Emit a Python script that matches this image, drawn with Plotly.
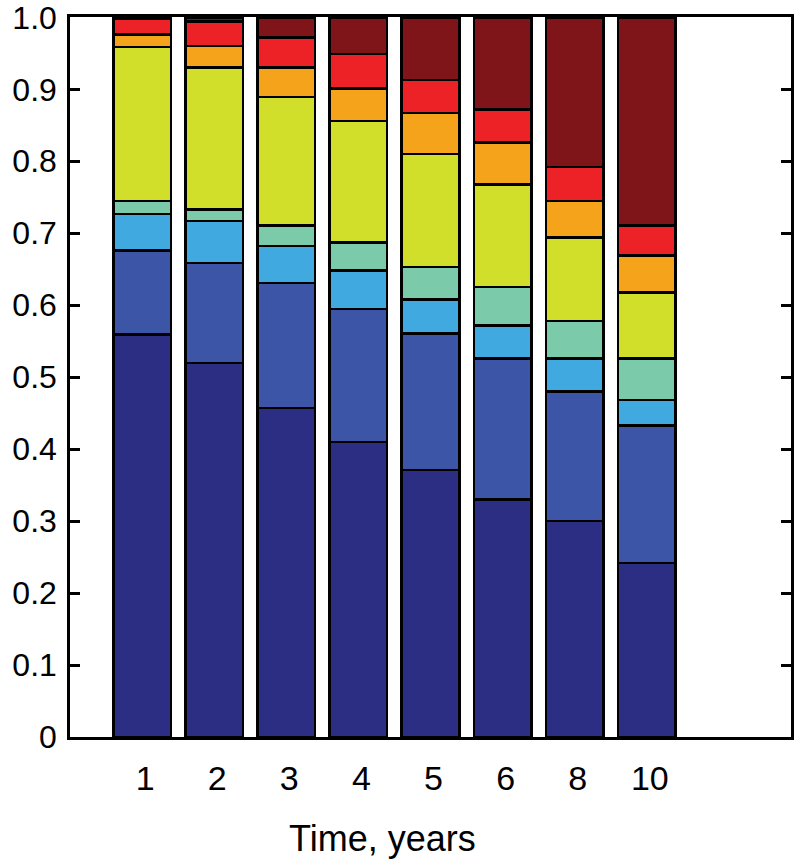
import plotly.graph_objects as go

# Categories (time, years)
categories = ["1", "2", "3", "4", "5", "6", "8", "10"]

# Stacked segment values, bottom to top
s1_navy      = [0.559, 0.520, 0.457, 0.410, 0.371, 0.330, 0.300, 0.242]
s2_blue      = [0.117, 0.139, 0.174, 0.185, 0.190, 0.196, 0.180, 0.191]
s3_lightblue = [0.051, 0.058, 0.051, 0.053, 0.047, 0.046, 0.046, 0.035]
s4_teal      = [0.018, 0.016, 0.029, 0.039, 0.045, 0.053, 0.052, 0.058]
s5_yellow    = [0.214, 0.197, 0.178, 0.169, 0.157, 0.143, 0.116, 0.092]
s6_orange    = [0.017, 0.030, 0.041, 0.045, 0.057, 0.058, 0.051, 0.051]
s7_red       = [0.022, 0.034, 0.042, 0.048, 0.046, 0.046, 0.047, 0.042]
s8_darkred   = [0.002, 0.006, 0.028, 0.051, 0.087, 0.128, 0.208, 0.289]

series = [s1_navy, s2_blue, s3_lightblue, s4_teal, s5_yellow, s6_orange, s7_red, s8_darkred]
colors = ["#2B2E83", "#3D55A6", "#40A9E0", "#7BCBAA", "#D1DE2A", "#F5A31B", "#EC2227", "#7F1518"]

y_tickvals = [0, 0.1, 0.2, 0.3, 0.4, 0.5, 0.6, 0.7, 0.8, 0.9, 1.0]
y_ticktext = ["0", "0.1", "0.2", "0.3", "0.4", "0.5", "0.6", "0.7", "0.8", "0.9", "1.0"]

FONT = "Liberation Sans, Arial, sans-serif"

fig = go.Figure()
for vals, col in zip(series, colors):
    fig.add_trace(go.Bar(
        x=categories, y=vals,
        marker=dict(color=col, line=dict(color="black", width=2.5)),
        showlegend=False,
    ))

fig.update_layout(
    width=800, height=860,
    barmode="stack", bargap=0.2,
    paper_bgcolor="white", plot_bgcolor="white",
    margin=dict(l=70, r=9, t=17, b=123, autoexpand=False),
    font=dict(family=FONT, size=34, color="black"),
)

fig.update_xaxes(
    type="category", categoryorder="array", categoryarray=categories,
    range=[-1, 9], automargin=False,
    showline=True, linewidth=2.5, linecolor="black", mirror=True,
    ticks="", showgrid=False, zeroline=False,
    tickfont=dict(size=34, family=FONT, color="black"),
    ticklabelstandoff=9, ticklabelshift=3,
)
fig.update_yaxes(
    range=[0, 1.0005], automargin=False,
    tickvals=y_tickvals, ticktext=y_ticktext,
    showline=True, linewidth=2.5, linecolor="black", mirror="ticks",
    ticks="inside", ticklen=10, tickwidth=2.5, tickcolor="black",
    showgrid=False, zeroline=False,
    tickfont=dict(size=32, family=FONT, color="black"),
    ticklabelstandoff=4, ticklabeloverflow="allow",
)

fig.add_annotation(
    text="Time, years", xref="paper", yref="paper",
    x=0.434, y=0, yshift=-101, xanchor="center", yanchor="middle",
    showarrow=False, font=dict(size=36, family=FONT, color="black"),
)

# remove the default page margin so the figure sits at the window's top-left corner
fig.write_html(
    "out.html",
    config={"displayModeBar": False},
    post_script="document.body.style.margin='0';",
)
